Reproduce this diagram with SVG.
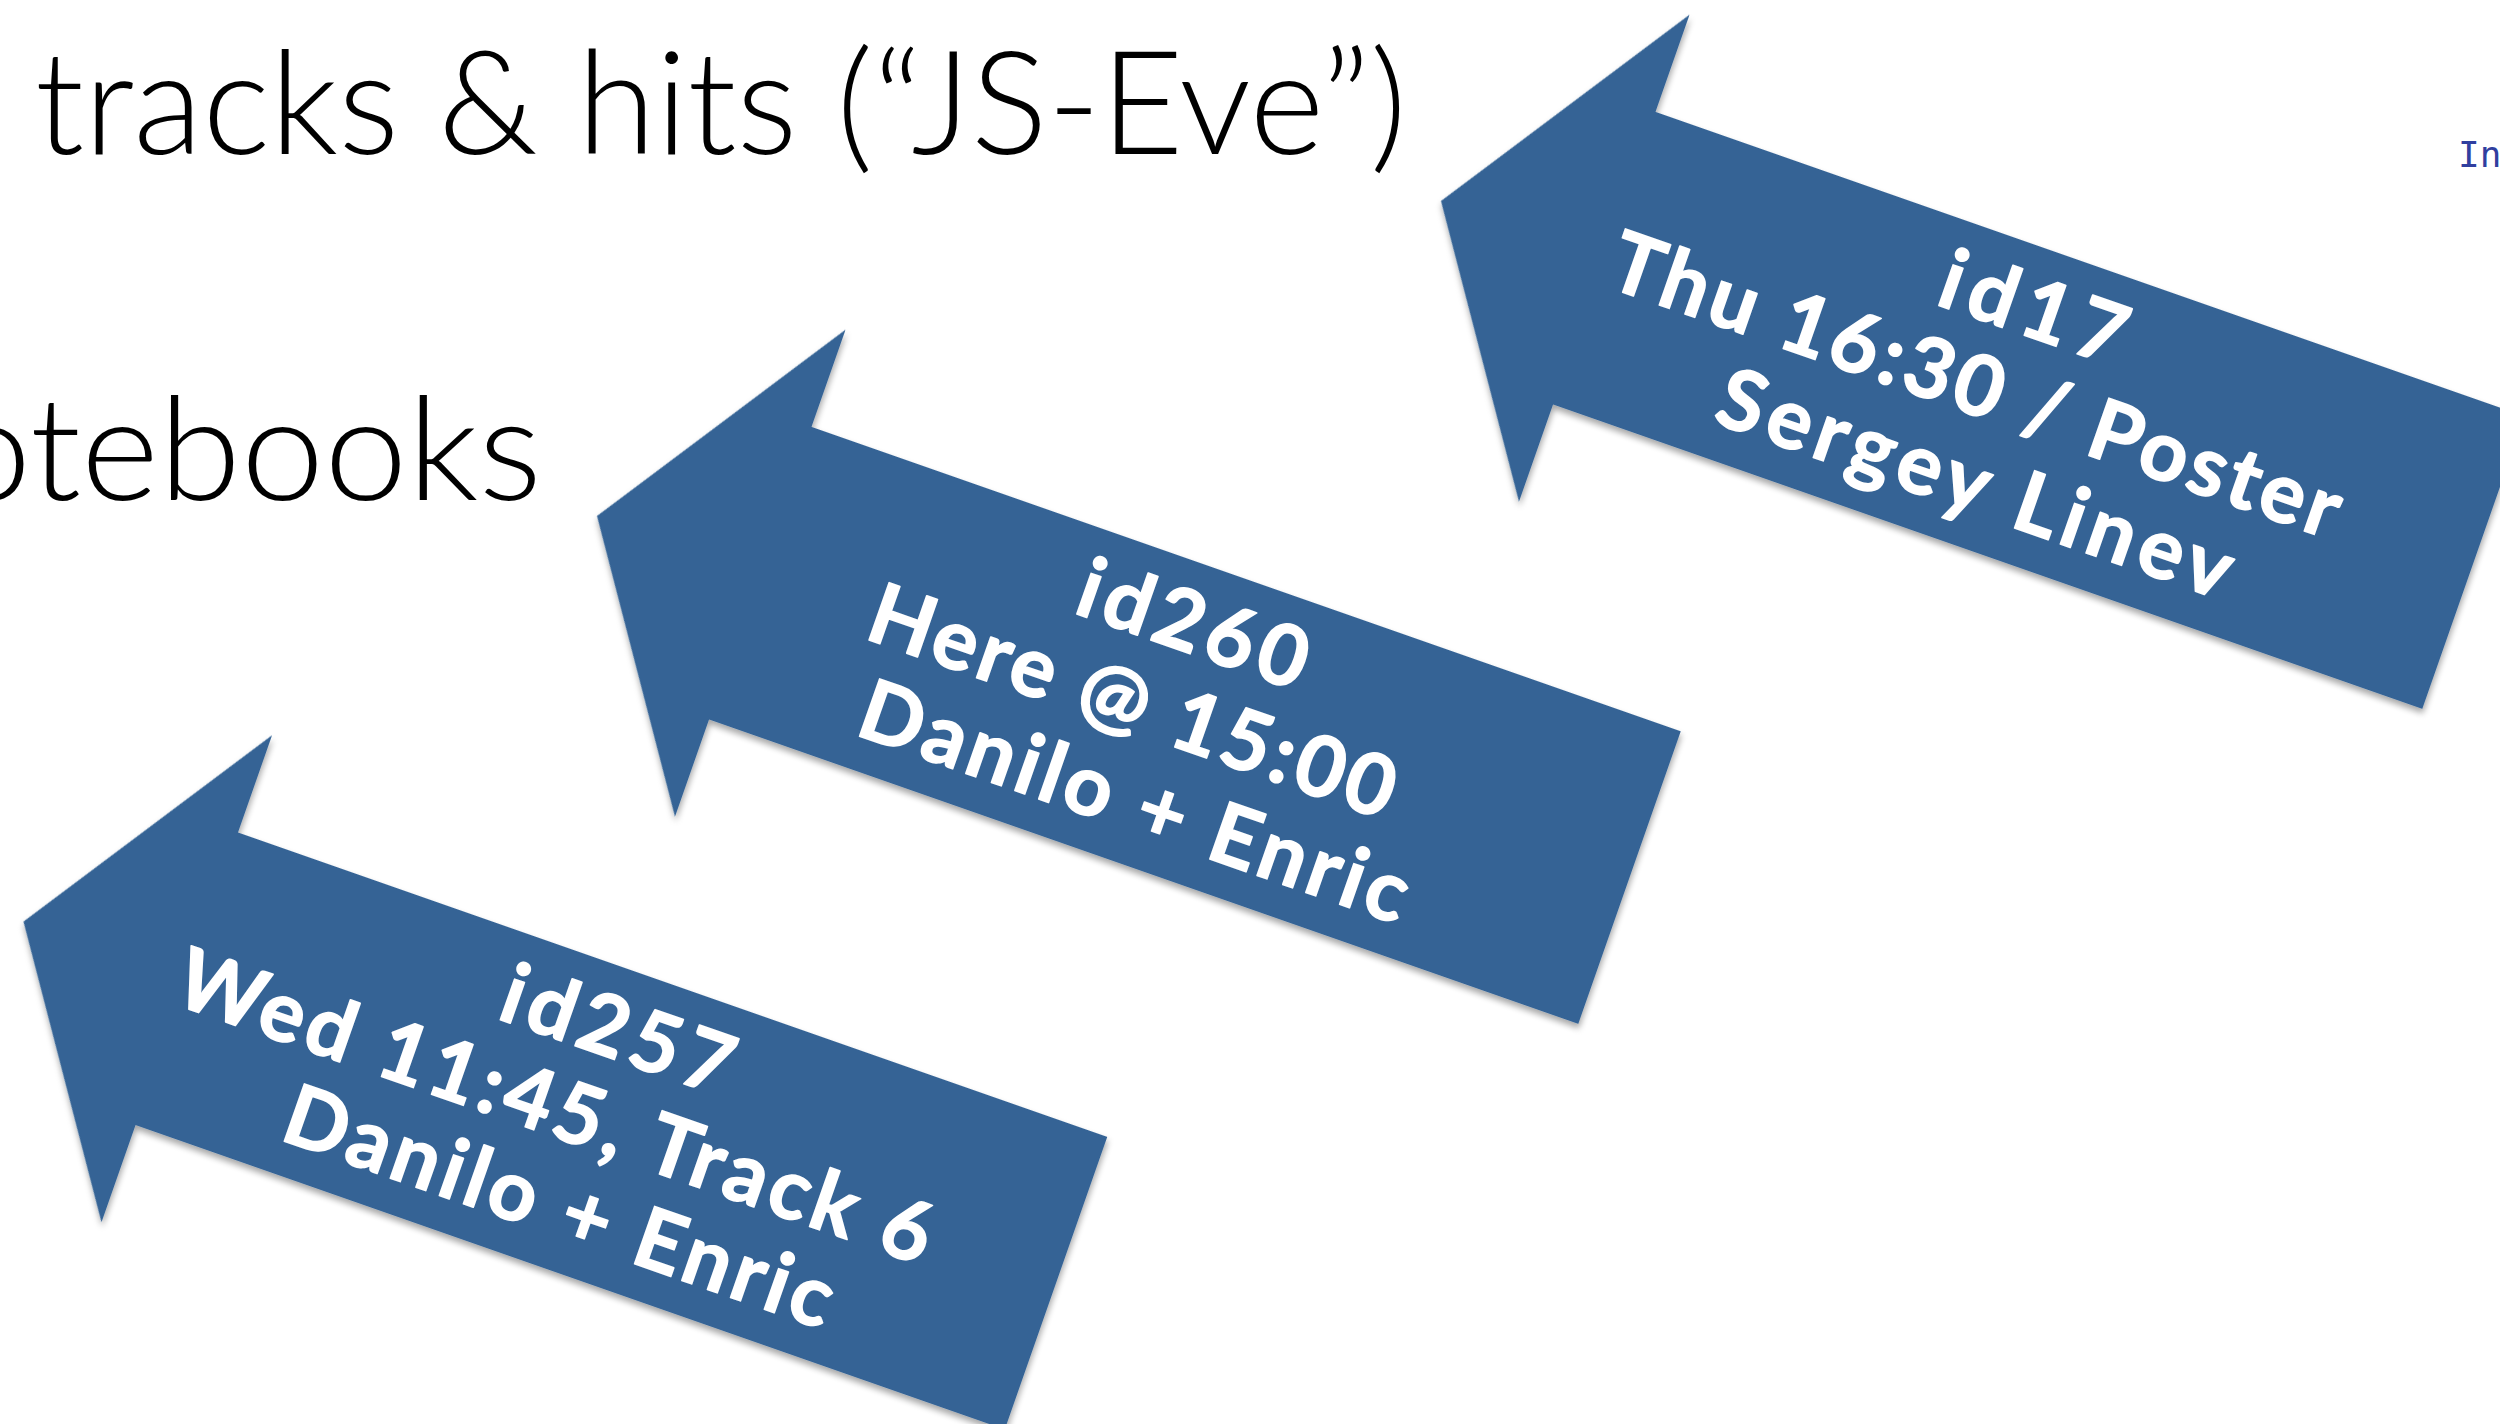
<svg xmlns="http://www.w3.org/2000/svg" width="2500" height="1424" viewBox="0 0 2500 1424">
<defs>
<filter id="sh" x="-10%" y="-20%" width="130%" height="150%">
<feDropShadow dx="2" dy="4" stdDeviation="3" flood-color="#000" flood-opacity="0.35"/>
</filter>
</defs>
<style>
.arrow{fill:#356495;filter:url(#sh)}
.lbl{font-family:Lato,"Open Sans","DejaVu Sans",sans-serif;font-weight:700;font-size:84px;fill:#fff;stroke:#fff;stroke-width:1.6px;stroke-linejoin:round;text-anchor:middle}
.title{font-family:Lato,"Open Sans","DejaVu Sans",sans-serif;font-weight:300;font-size:144px;fill:#000}
.prompt{font-family:"DejaVu Sans Mono","Liberation Mono",monospace;font-size:36px;fill:#303F9F}
</style>
<rect width="2500" height="1424" fill="#fff"/>
<text class="title" x="35" y="154" textLength="1372" lengthAdjust="spacingAndGlyphs">tracks &amp; hits (“JS-Eve”)</text>
<text class="title" x="-52" y="500" textLength="594" lengthAdjust="spacingAndGlyphs">otebooks</text>
<text class="prompt" x="2458" y="167">In</text>
<g id="connectors"></g>
<g id="arrow-id17" transform="translate(1441,201) rotate(19.3)">
<polygon class="arrow" points="0,0 173,-258 173,-155 1094,-155 1094,155 173,155 173,258"/>
<text class="lbl" x="595" y="-66" textLength="192">id17</text>
<text class="lbl" x="566" y="26" textLength="768">Thu 16:30 / Poster</text>
<text class="lbl" x="598" y="119" textLength="540">Sergey Linev</text>
</g>
<g id="arrow-id260" transform="translate(597,516) rotate(19.3)">
<polygon class="arrow" points="0,0 173,-258 173,-155 1094,-155 1094,155 173,155 173,258"/>
<text class="lbl" x="599" y="-66" textLength="238">id260</text>
<text class="lbl" x="567" y="27" textLength="552">Here @ 15:00</text>
<text class="lbl" x="602" y="121" textLength="576">Danilo + Enric</text>
</g>
<g id="arrow-id257" transform="translate(23.5,921.6) rotate(19.3)">
<polygon class="arrow" points="0,0 173,-258 173,-155 1094,-155 1094,155 173,155 173,258"/>
<text class="lbl" x="597" y="-65" textLength="240">id257</text>
<text class="lbl" x="563" y="28" textLength="795">Wed 11:45, Track 6</text>
<text class="lbl" x="600" y="121" textLength="576">Danilo + Enric</text>
</g>
</svg>
